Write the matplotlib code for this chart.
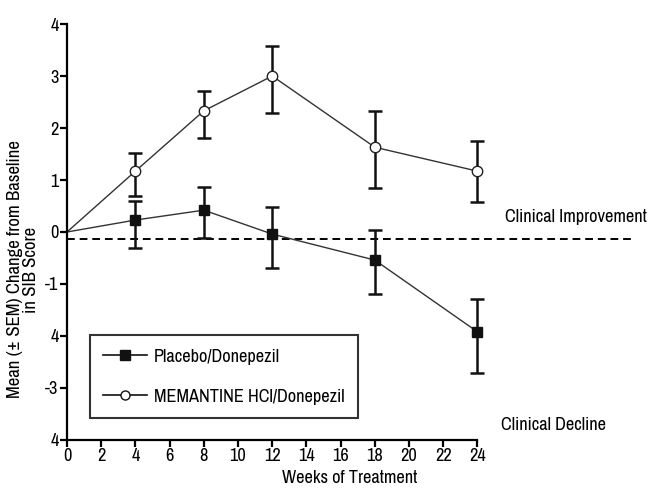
import numpy as np
import matplotlib
matplotlib.use("Agg")
import matplotlib.pyplot as plt
from matplotlib import font_manager

# pick a narrow face if one is installed, the reference uses a condensed sans
names = sorted({f.name for f in font_manager.fontManager.ttflist})
narrow = [n for n in names if 'Narrow' in n or 'Condensed' in n]
if narrow:
    plt.rcParams['font.family'] = [narrow[0], 'DejaVu Sans']
    fs = 13.2
else:
    plt.rcParams['font.family'] = ['DejaVu Sans']
    fs = 10.5

# weeks of treatment
weeks = [0, 4, 8, 12, 18, 24]

# MEMANTINE HCl/Donepezil: mean, lower and upper error-bar ends
mem_mean = [0.0, 1.17, 2.33, 3.00, 1.63, 1.17]
mem_low = [0.0, 0.69, 1.81, 2.29, 0.85, 0.58]
mem_high = [0.0, 1.52, 2.71, 3.58, 2.33, 1.75]

# Placebo/Donepezil
pla_mean = [0.0, 0.23, 0.42, -0.04, -0.54, -1.92]
pla_low = [0.0, -0.31, -0.12, -0.69, -1.19, -2.71]
pla_high = [0.0, 0.60, 0.87, 0.48, 0.04, -1.29]

x_ticks = list(range(0, 25, 2))
y_ticks = [4, 3, 2, 1, 0, -1, -2, -3, -4]
y_ticklabels = ['4', '3', '2', '1', '0', '-1', '4', '-3', '4']
ref_level = -0.13

fig = plt.figure(figsize=(6.51, 4.97), dpi=100)
ax = fig.add_axes([0.1029, 0.1147, 0.868, 0.837])

def errs(mean, low, high):
    m = np.array(mean[1:])
    return np.vstack([m - np.array(low[1:]), np.array(high[1:]) - m])

# connecting lines
ax.plot(weeks, mem_mean, color='#333333', lw=1.0, zorder=2)
ax.plot(weeks, pla_mean, color='#333333', lw=1.0, zorder=2)

# error bars (skip baseline point)
ax.errorbar(weeks[1:], mem_mean[1:], yerr=errs(mem_mean, mem_low, mem_high),
            fmt='none', ecolor='#111111', elinewidth=1.8, capsize=5, capthick=1.8, zorder=3)
ax.errorbar(weeks[1:], pla_mean[1:], yerr=errs(pla_mean, pla_low, pla_high),
            fmt='none', ecolor='#111111', elinewidth=1.8, capsize=5, capthick=1.8, zorder=3)

ax.plot(weeks[1:], mem_mean[1:], 'o', ms=7.5, mfc='white', mec='#222222', mew=1.0, zorder=4)
ax.plot(weeks[1:], pla_mean[1:], 's', ms=7.5, mfc='#111111', mec='#111111', zorder=4)

# legend handles
h1, = ax.plot([], [], '-s', color='#111111', lw=1.2, ms=6.5, label='Placebo/Donepezil')
h2, = ax.plot([], [], '-o', color='#111111', lw=1.2, ms=6.5, mfc='white', mew=1.0,
              label='MEMANTINE HCl/Donepezil')
leg = ax.legend(handles=[h1, h2], loc='lower left', bbox_to_anchor=(0.04, 0.052),
                fontsize=fs, frameon=True, fancybox=False, handlelength=2.4,
                borderpad=0.75, labelspacing=1.3, handletextpad=0.35, borderaxespad=0)
leg.get_frame().set_edgecolor('black')
leg.get_frame().set_linewidth(1.5)

# reference line and region labels
ax.axhline(ref_level, color='black', lw=1.4, ls=(0, (4, 2.5)), zorder=1)
ax.text(25.6, 0.14, 'Clinical Improvement', fontsize=fs, va='bottom', ha='left')
ax.text(25.4, -3.72, 'Clinical Decline', fontsize=fs, va='center', ha='left')

ax.set_xlim(0, 33.04)
ax.set_ylim(-4, 4)
ax.set_xticks(x_ticks)
ax.set_yticks(y_ticks)
ax.set_yticklabels(y_ticklabels)

for s in ['top', 'right']:
    ax.spines[s].set_visible(False)
ax.spines['bottom'].set_bounds(0, 24)
for s in ['left', 'bottom']:
    ax.spines[s].set_linewidth(1.6)
ax.tick_params(direction='out', length=5, width=1.6, labelsize=fs, pad=1)

ax.set_xlabel('Weeks of Treatment', fontsize=fs, labelpad=4)
ax.set_ylabel('Mean (\u00b1 SEM) Change from Baseline\nin SIB Score', fontsize=fs + 0.3,
              linespacing=1.0)
ax.yaxis.set_label_coords(-0.05, 0.41)

fig.savefig('out.png', dpi=100)
